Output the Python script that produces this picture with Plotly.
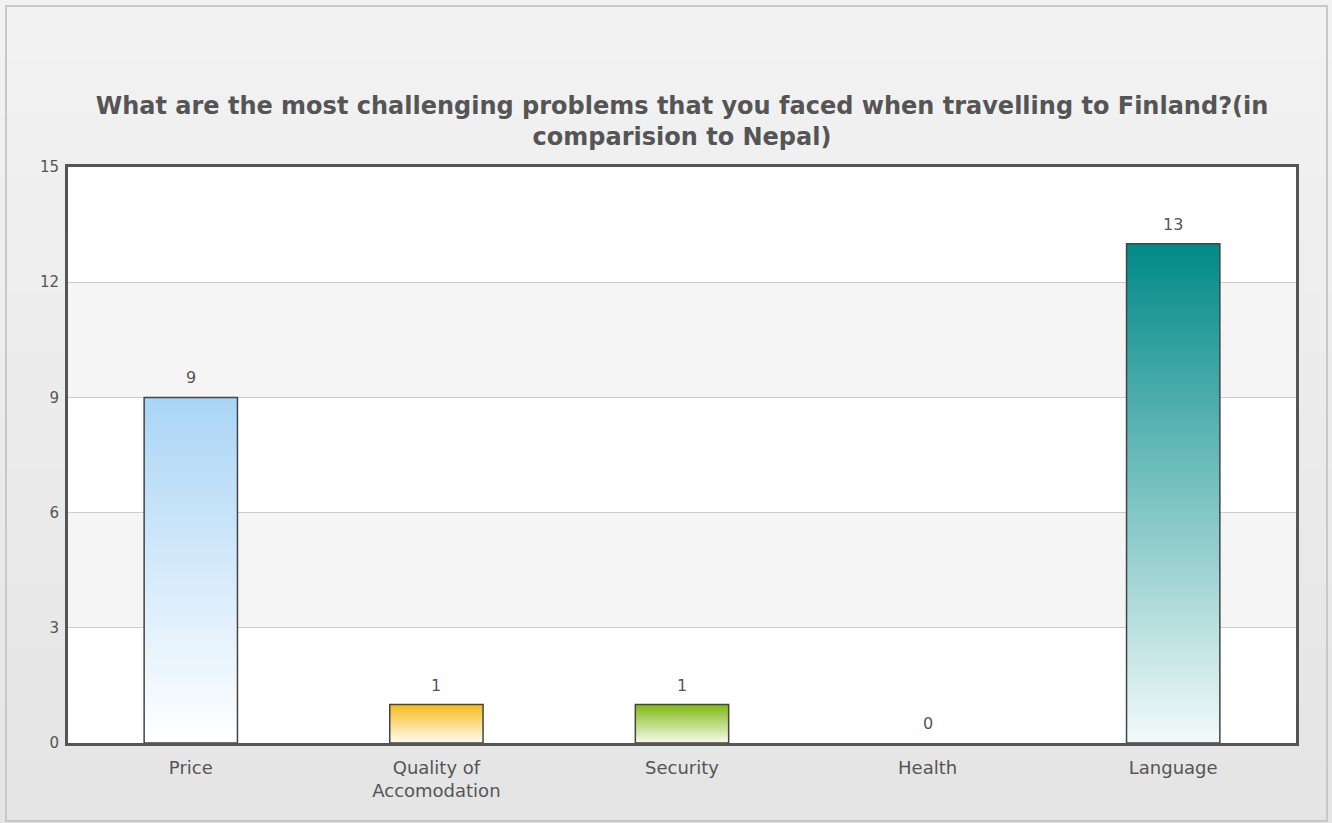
import plotly.graph_objects as go

categories = ["Price", "Quality of<br>Accomodation", "Security", "Health", "Language"]
values = [9, 1, 1, 0, 13]
top_colors = ["#aad5f6", "#f6bb1a", "#80b912", "#7f7f7f", "#008a88"]
bottom_colors = ["#ffffff", "#fffcf2", "#f7fbef", "#ffffff", "#f2fafa"]
y_ticks = [0, 3, 6, 9, 12, 15]

W, H = 1332, 823
L, R, T, B = 68, 36, 167, 80
half = 0.19

fig = go.Figure()

for i, (v, tc, bc) in enumerate(zip(values, top_colors, bottom_colors)):
    if v <= 0:
        continue
    xs = [i - half, i - half, i + half, i + half, i - half]
    ys = [0, v, v, 0, 0]
    fig.add_trace(go.Scatter(
        x=xs, y=ys, mode="lines", line=dict(color="#444444", width=1.5),
        fill="toself",
        fillgradient=dict(type="vertical", start=0, stop=v,
                          colorscale=[[0, bc], [1, tc]]),
        hoverinfo="skip", showlegend=False))

annotations = []
for i, v in enumerate(values):
    annotations.append(dict(x=i, y=v, xref="x", yref="y", text=str(v),
                            showarrow=False, yanchor="bottom", yshift=8,
                            font=dict(family="DejaVu Sans", size=16, color="#555555")))

shapes = []
pw, ph = W - L - R, H - T - B
def px_x(px):
    return (px - L) / pw
def px_y(py):
    return 1 - (py - T) / ph
nb = 14
for k in range(nb):
    g = 0xf2 - k
    y0 = k * H / nb
    y1 = (k + 1) * H / nb + 1
    shapes.append(dict(type="rect", xref="paper", yref="paper", layer="below",
                       x0=px_x(0), x1=px_x(W), y0=px_y(y1), y1=px_y(y0),
                       fillcolor=f"rgb({g},{g},{g})", line=dict(width=0)))
shapes.append(dict(type="rect", xref="paper", yref="paper", layer="below",
                   x0=px_x(6), x1=px_x(1327), y0=px_y(821), y1=px_y(6),
                   fillcolor="rgba(0,0,0,0)", line=dict(color="#c8c8c8", width=2)))
for j in range(len(y_ticks) - 1):
    col = "#ffffff" if (len(y_ticks) - 2 - j) % 2 == 0 else "#f5f5f5"
    shapes.append(dict(type="rect", xref="paper", yref="y", layer="below",
                       x0=0, x1=1, y0=y_ticks[j], y1=y_ticks[j + 1],
                       fillcolor=col, line=dict(width=0)))

fig.update_layout(
    width=W, height=H,
    margin=dict(l=L, r=R, t=T, b=B),
    paper_bgcolor="#ebebeb",
    plot_bgcolor="rgba(0,0,0,0)",
    shapes=shapes,
    annotations=annotations,
    title=dict(
        text="<b>What are the most challenging problems that you faced when travelling to Finland?(in<br>comparision to Nepal)</b>",
        x=(L + pw / 2) / W, xanchor="center",
        y=1 - 114 / H, yanchor="middle",
        font=dict(family="DejaVu Sans", size=24, color="#555555")),
    xaxis=dict(range=[-0.5, len(values) - 0.5],
               tickvals=list(range(len(values))), ticktext=categories,
               showgrid=False, zeroline=False,
               showline=True, mirror=True, linecolor="#555555", linewidth=3,
               ticks="", ticklabelstandoff=6,
               tickfont=dict(family="DejaVu Sans", size=18, color="#555555")),
    yaxis=dict(range=[0, 15], tickvals=y_ticks,
               showgrid=True, gridcolor="#cccccc", gridwidth=1, zeroline=False,
               showline=True, mirror=True, linecolor="#555555", linewidth=3,
               ticks="", ticklabelstandoff=3,
               tickfont=dict(family="DejaVu Sans", size=15, color="#555555")),
)

fig.write_html("out.html")
